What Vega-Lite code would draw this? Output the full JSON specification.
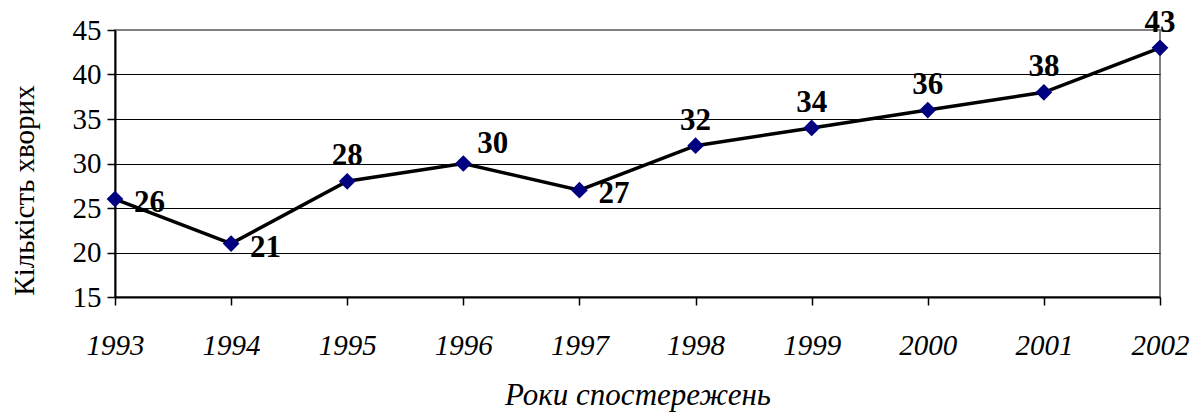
{
  "$schema": "https://vega.github.io/schema/vega-lite/v6.json",
  "width": 1045,
  "height": 267,
  "autosize": {"type": "none"},
  "padding": {"left": 115, "top": 30, "right": 30, "bottom": 115},
  "background": "white",
  "config": {
    "view": {"stroke": "#808080", "strokeWidth": 2},
    "font": "Times New Roman, Liberation Serif, serif"
  },
  "data": {
    "values": [
      {"year": "1993", "count": 26},
      {"year": "1994", "count": 21},
      {"year": "1995", "count": 28},
      {"year": "1996", "count": 30},
      {"year": "1997", "count": 27},
      {"year": "1998", "count": 32},
      {"year": "1999", "count": 34},
      {"year": "2000", "count": 36},
      {"year": "2001", "count": 38},
      {"year": "2002", "count": 43}
    ]
  },
  "encoding": {
    "x": {
      "field": "year",
      "type": "ordinal",
      "scale": {"type": "point", "padding": 0},
      "axis": {
        "title": "Роки спостережень",
        "titleFont": "Times New Roman, Liberation Serif, serif",
        "titleFontStyle": "italic",
        "titleFontWeight": "normal",
        "titleFontSize": 31,
        "titleColor": "black",
        "titlePadding": 20,
        "labelFont": "Times New Roman, Liberation Serif, serif",
        "labelFontStyle": "italic",
        "labelFontSize": 29,
        "labelColor": "black",
        "labelAngle": 0,
        "labelPadding": 26,
        "tickSize": 8,
        "tickColor": "black",
        "tickWidth": 1.5,
        "domainColor": "black",
        "domainWidth": 2,
        "grid": false
      }
    },
    "y": {
      "field": "count",
      "type": "quantitative",
      "scale": {"domain": [15, 45], "nice": false, "zero": false},
      "axis": {
        "title": "Кількість хворих",
        "titleFont": "Times New Roman, Liberation Serif, serif",
        "titleFontWeight": "normal",
        "titleFontSize": 29,
        "titleColor": "black",
        "titleAngle": -90,
        "titleX": -91,
        "titleY": 160,
        "titleAlign": "center",
        "titleBaseline": "middle",
        "labelFont": "Times New Roman, Liberation Serif, serif",
        "labelFontSize": 29,
        "labelColor": "black",
        "labelPadding": 6,
        "values": [15, 20, 25, 30, 35, 40, 45],
        "tickSize": 8,
        "tickColor": "black",
        "tickWidth": 1.5,
        "domainColor": "black",
        "domainWidth": 2,
        "grid": true,
        "gridColor": {"condition": {"test": "datum.value == 45", "value": "#808080"}, "value": "black"},
        "gridWidth": 1.2
      }
    }
  },
  "layer": [
    {"mark": {"type": "line", "color": "black", "strokeWidth": 3.5}},
    {"mark": {"type": "point", "shape": "diamond", "filled": true, "color": "#000080", "opacity": 1, "size": 280}},
    {
      "transform": [{"filter": "indexof(['1993','1994','1997'], datum.year) >= 0"}],
      "mark": {"type": "text", "align": "left", "baseline": "middle", "dx": 19, "dy": 4, "fontSize": 31, "fontWeight": "bold", "font": "Times New Roman, Liberation Serif, serif", "color": "black"},
      "encoding": {"text": {"field": "count", "type": "quantitative"}}
    },
    {
      "transform": [{"filter": "indexof(['1995','1998','1999','2000','2001','2002'], datum.year) >= 0"}],
      "mark": {"type": "text", "align": "center", "baseline": "bottom", "dx": 0, "dy": -9, "fontSize": 31, "fontWeight": "bold", "font": "Times New Roman, Liberation Serif, serif", "color": "black"},
      "encoding": {"text": {"field": "count", "type": "quantitative"}}
    },
    {
      "transform": [{"filter": "datum.year == '1996'"}],
      "mark": {"type": "text", "align": "left", "baseline": "bottom", "dx": 14, "dy": -4, "fontSize": 31, "fontWeight": "bold", "font": "Times New Roman, Liberation Serif, serif", "color": "black"},
      "encoding": {"text": {"field": "count", "type": "quantitative"}}
    }
  ]
}
